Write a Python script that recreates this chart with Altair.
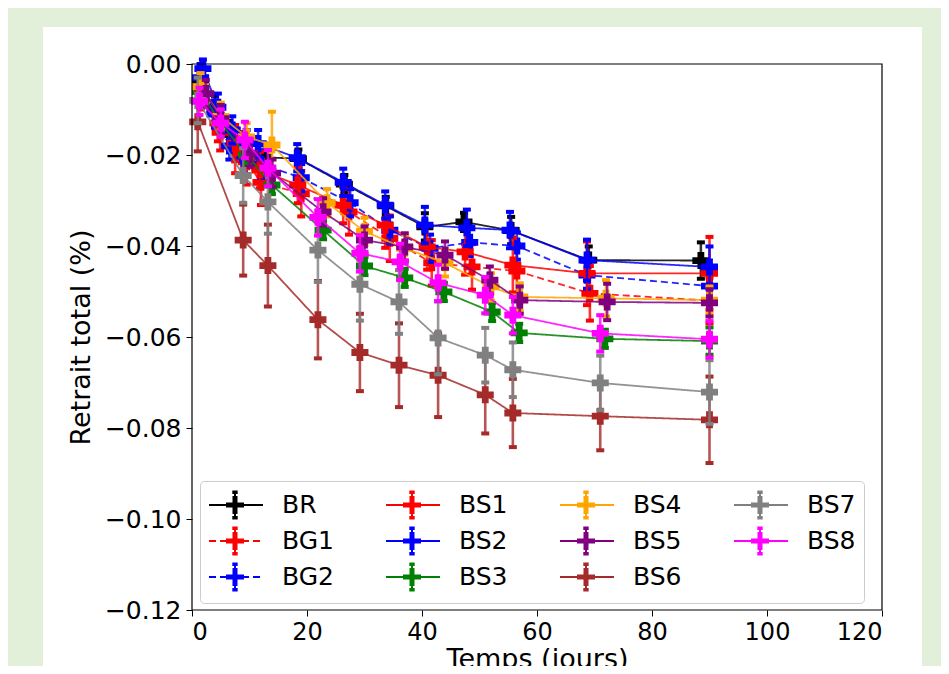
import altair as alt
import pandas as pd

# ---- data ----
series_names = ["BR", "BG1", "BG2", "BS1", "BS2", "BS3", "BS4", "BS5", "BS6", "BS7", "BS8"]
series_colors = ["black", "red", "blue", "red", "blue", "green", "orange", "purple", "brown", "gray", "magenta"]
series_dashed = [False, True, True, False, False, False, False, False, False, False, False]

BR_t = [1.5, 4, 6.5, 9, 12.5, 18.5, 26.5, 33.7, 40.5, 47.3, 55.5, 69, 88.5]
BR_y = [-0.004, -0.010, -0.0155, -0.018, -0.0205, -0.0208, -0.0264, -0.0312, -0.0358, -0.0347, -0.0366, -0.0431, -0.0432]
BR_e = [0.003, 0.003, 0.003, 0.003, 0.003, 0.002, 0.002, 0.002, 0.003, 0.002, 0.003, 0.003, 0.004]

BG1_t = [1.5, 4.9, 7.5, 9.5, 12, 19, 27.3, 34.4, 41.7, 48.7, 56.5, 69.2, 90]
BG1_y = [-0.006, -0.015, -0.019, -0.0215, -0.026, -0.0285, -0.0325, -0.0383, -0.0437, -0.0446, -0.0455, -0.0504, -0.052]
BG1_e = [0.004, 0.004, 0.005, 0.005, 0.005, 0.005, 0.005, 0.005, 0.005, 0.005, 0.006, 0.006, 0.005]

BG2_t = [1.5, 4, 6.5, 9, 12, 19, 27.5, 34.4, 41.4, 48.3, 56.5, 68.7, 90]
BG2_y = [-0.003, -0.011, -0.018, -0.021, -0.022, -0.025, -0.0305, -0.0365, -0.0405, -0.0392, -0.0400, -0.0464, -0.0488]
BG2_e = [0.003, 0.003, 0.003, 0.003, 0.003, 0.003, 0.003, 0.003, 0.003, 0.003, 0.003, 0.003, 0.004]

BS1_t = [1.5, 4.5, 7.5, 9, 11.8, 18.4, 26.3, 33.6, 40.9, 47.5, 55.8, 68.7, 90]
BS1_y = [-0.005, -0.013, -0.0174, -0.019, -0.0233, -0.0266, -0.031, -0.0354, -0.0402, -0.0413, -0.0442, -0.046, -0.046]
BS1_e = [0.003, 0.004, 0.004, 0.004, 0.004, 0.004, 0.004, 0.005, 0.005, 0.005, 0.006, 0.007, 0.008]

BS2_t = [1.9, 4.5, 7, 9.5, 11.5, 18.3, 26.3, 33.6, 40.5, 47.8, 55.3, 68.7, 90]
BS2_y = [-0.001, -0.0095, -0.0145, -0.0175, -0.0175, -0.0206, -0.026, -0.031, -0.0354, -0.036, -0.0365, -0.0431, -0.0446]
BS2_e = [0.002, 0.003, 0.003, 0.003, 0.003, 0.003, 0.003, 0.003, 0.004, 0.004, 0.004, 0.0045, 0.0045]

BS3_t = [1.5, 5, 9.5, 13.9, 22.8, 30, 37, 43.8, 52.2, 56.9, 71.8, 90]
BS3_y = [-0.006, -0.013, -0.020, -0.0266, -0.0365, -0.0444, -0.047, -0.0501, -0.0545, -0.0591, -0.0604, -0.0609]
BS3_e = [0.002, 0.002, 0.002, 0.002, 0.002, 0.002, 0.002, 0.002, 0.002, 0.002, 0.002, 0.003]

BS4_t = [1.5, 5, 9.5, 13.9, 23.5, 30, 37, 44, 52, 57, 72, 90]
BS4_y = [-0.005, -0.0115, -0.016, -0.0178, -0.0305, -0.0368, -0.0405, -0.0437, -0.049, -0.0512, -0.0515, -0.0519]
BS4_e = [0.003, 0.003, 0.003, 0.0073, 0.003, 0.003, 0.003, 0.003, 0.003, 0.003, 0.004, 0.003]

BS5_t = [2.4, 5, 10, 14, 22.8, 30, 37, 44, 51.8, 57, 72.2, 90]
BS5_y = [-0.0065, -0.012, -0.0196, -0.024, -0.0325, -0.0387, -0.0402, -0.042, -0.0475, -0.0519, -0.0523, -0.0525]
BS5_e = [0.003, 0.003, 0.003, 0.003, 0.003, 0.003, 0.003, 0.003, 0.003, 0.003, 0.004, 0.003]

BS6_t = [1, 8.9, 13.2, 21.9, 29.2, 36, 42.8, 51, 55.8, 71, 90]
BS6_y = [-0.0127, -0.0387, -0.0443, -0.0562, -0.0634, -0.0662, -0.0684, -0.0727, -0.0767, -0.0774, -0.0782]
BS6_e = [0.0065, 0.0078, 0.009, 0.0085, 0.0085, 0.0092, 0.0092, 0.0085, 0.0075, 0.0075, 0.0095]

BS7_t = [1, 8.9, 13.2, 21.9, 29.2, 36, 42.8, 51, 55.8, 71, 90]
BS7_y = [-0.008, -0.0245, -0.0303, -0.0409, -0.0484, -0.0523, -0.0602, -0.064, -0.0672, -0.0701, -0.0721]
BS7_e = [0.005, 0.006, 0.007, 0.007, 0.008, 0.007, 0.008, 0.006, 0.006, 0.006, 0.007]

BS8_t = [1.3, 5, 9.2, 13.2, 21.9, 29.2, 36.2, 42.8, 51, 55.8, 71, 90]
BS8_y = [-0.0082, -0.013, -0.0167, -0.0229, -0.0337, -0.0416, -0.0435, -0.0481, -0.0508, -0.0552, -0.0592, -0.0605]
BS8_e = [0.003, 0.003, 0.004, 0.004, 0.004, 0.004, 0.004, 0.004, 0.004, 0.004, 0.004, 0.004]

x_ticks = [0, 20, 40, 60, 80, 100, 120]
y_ticks = [-0.12, -0.10, -0.08, -0.06, -0.04, -0.02, 0.00]

series_data = {
    "BR": (BR_t, BR_y, BR_e), "BG1": (BG1_t, BG1_y, BG1_e), "BG2": (BG2_t, BG2_y, BG2_e),
    "BS1": (BS1_t, BS1_y, BS1_e), "BS2": (BS2_t, BS2_y, BS2_e), "BS3": (BS3_t, BS3_y, BS3_e),
    "BS4": (BS4_t, BS4_y, BS4_e), "BS5": (BS5_t, BS5_y, BS5_e), "BS6": (BS6_t, BS6_y, BS6_e),
    "BS7": (BS7_t, BS7_y, BS7_e), "BS8": (BS8_t, BS8_y, BS8_e),
}

rows = []
for name in series_names:
    ts, ys, es = series_data[name]
    for t, y, e in zip(ts, ys, es):
        rows.append({"series": name, "t": t, "y": y, "lo": y - e, "hi": y + e})
df = pd.DataFrame(rows)

dash_range = [[7, 4] if d else [1, 0] for d in series_dashed]

FONT = "DejaVu Sans"


# legend glyph (unit = 15 px): a long line, then an error bar with caps and a
# thick plus drawn as many short sub-paths so that dashes never break them
def _segs_h(y, x0, x1, step=0.4):
    out, x = [], x0
    while x < x1 - 1e-9:
        xe = min(x + step, x1)
        out.append(f"M{x:.3f},{y:.3f}H{xe:.3f}")
        x = xe
    return out


def _segs_v(x, y0, y1, step=0.4):
    out, y = [], y0
    while y < y1 - 1e-9:
        ye = min(y + step, y1)
        out.append(f"M{x:.3f},{y:.3f}V{ye:.3f}")
        y = ye
    return out


cx = 0.733
parts = ["M-1,0H2.6"]
for yy in (-0.1, 0.0, 0.1):
    parts += _segs_h(yy, cx - 0.6, cx + 0.6)
for xx in (cx - 0.1, cx, cx + 0.1):
    parts += _segs_v(xx, -0.6, 0.6)
parts += _segs_v(cx, -0.93, -0.6) + _segs_v(cx, 0.6, 0.93)
for yy in (-0.9, -0.8, 0.8, 0.9):
    parts += _segs_h(yy, cx - 0.18, cx + 0.18)
SYMBOL = "".join(parts)

legend = alt.Legend(
    orient="none", legendX=8, legendY=417, columns=4, title=None,
    symbolType=SYMBOL, symbolSize=900, symbolStrokeWidth=2, symbolOpacity=1,
    labelFontSize=25, labelFont=FONT, labelColor="black", labelOffset=42,
    fillColor="white", strokeColor="#cccccc", cornerRadius=4, padding=8,
    rowPadding=0, columnPadding=48,
)

x_enc = alt.X("t:Q", scale=alt.Scale(domain=[0, 120], nice=False, zero=False),
              axis=alt.Axis(values=x_ticks, format="d", title="Temps (jours)",
                            labelFontSize=24, labelFont=FONT, labelColor="black",
                            tickColor="black", tickSize=6, labelPadding=4, domain=False,
                            grid=False, titleFontSize=27, titleFont=FONT,
                            titleFontWeight="normal", titleColor="black", titlePadding=2,
                            zindex=1))
y_scale = alt.Scale(domain=[-0.12, 0.0], nice=False, zero=False)
y_axis = alt.Axis(values=y_ticks, format=".2f", title="Retrait total (%)",
                  labelFontSize=25, labelFont=FONT, labelColor="black",
                  tickColor="black", tickSize=6, labelPadding=5, domain=False,
                  grid=False, titleFontSize=27, titleFont=FONT,
                  titleFontWeight="normal", titleColor="black", titlePadding=9,
                  zindex=1)
y_enc = alt.Y("y:Q", scale=y_scale, axis=y_axis)

color_scale = alt.Scale(domain=series_names, range=series_colors)
color_leg = alt.Color("series:N", scale=color_scale, legend=legend)
color_noleg = alt.Color("series:N", scale=color_scale, legend=None)
dash_enc = alt.StrokeDash("series:N", scale=alt.Scale(domain=series_names, range=dash_range),
                          legend=legend)

one = pd.DataFrame({"k": [0]})
panel = alt.Chart(one).mark_rect(color="white").encode(
    x=alt.value(-149), x2=alt.value(730), y=alt.value(-37), y2=alt.value(640))
frame = alt.Chart(one).mark_rect(filled=False, stroke="black", strokeWidth=1.2).encode(
    x=alt.value(0), x2=alt.value("width"), y=alt.value(0), y2=alt.value("height"))

layers = [panel]
for name in series_names:
    base = alt.Chart().transform_filter(alt.datum.series == name)
    line = base.mark_line(strokeWidth=1.8, opacity=0.85).encode(
        x=x_enc, y=y_enc, color=color_leg, strokeDash=dash_enc, order="t:Q")
    err = base.mark_rule(strokeWidth=2.6, opacity=0.8).encode(
        x=x_enc, y=alt.Y("lo:Q", scale=y_scale, axis=y_axis), y2="hi:Q", color=color_noleg)
    cap_lo = base.mark_tick(orient="horizontal", thickness=4, size=8, opacity=1).encode(
        x=x_enc, y=alt.Y("lo:Q", scale=y_scale, axis=y_axis), color=color_noleg)
    cap_hi = base.mark_tick(orient="horizontal", thickness=4, size=8, opacity=1).encode(
        x=x_enc, y=alt.Y("hi:Q", scale=y_scale, axis=y_axis), color=color_noleg)
    pts = base.mark_point(shape="cross", filled=True, size=290, opacity=1).encode(
        x=x_enc, y=y_enc, color=color_noleg)
    layers += [line, err, cap_lo, cap_hi, pts]
layers.append(frame)

chart = alt.layer(*layers, data=df).properties(
    width=690, height=546,
    autosize=alt.AutoSizeParams(type="none"),
    padding={"left": 184, "top": 56, "right": 59, "bottom": 56},
    background="#e2efd9",
).configure_view(stroke=None)

chart.save("out.html", embed_options={"renderer": "svg", "actions": False})
